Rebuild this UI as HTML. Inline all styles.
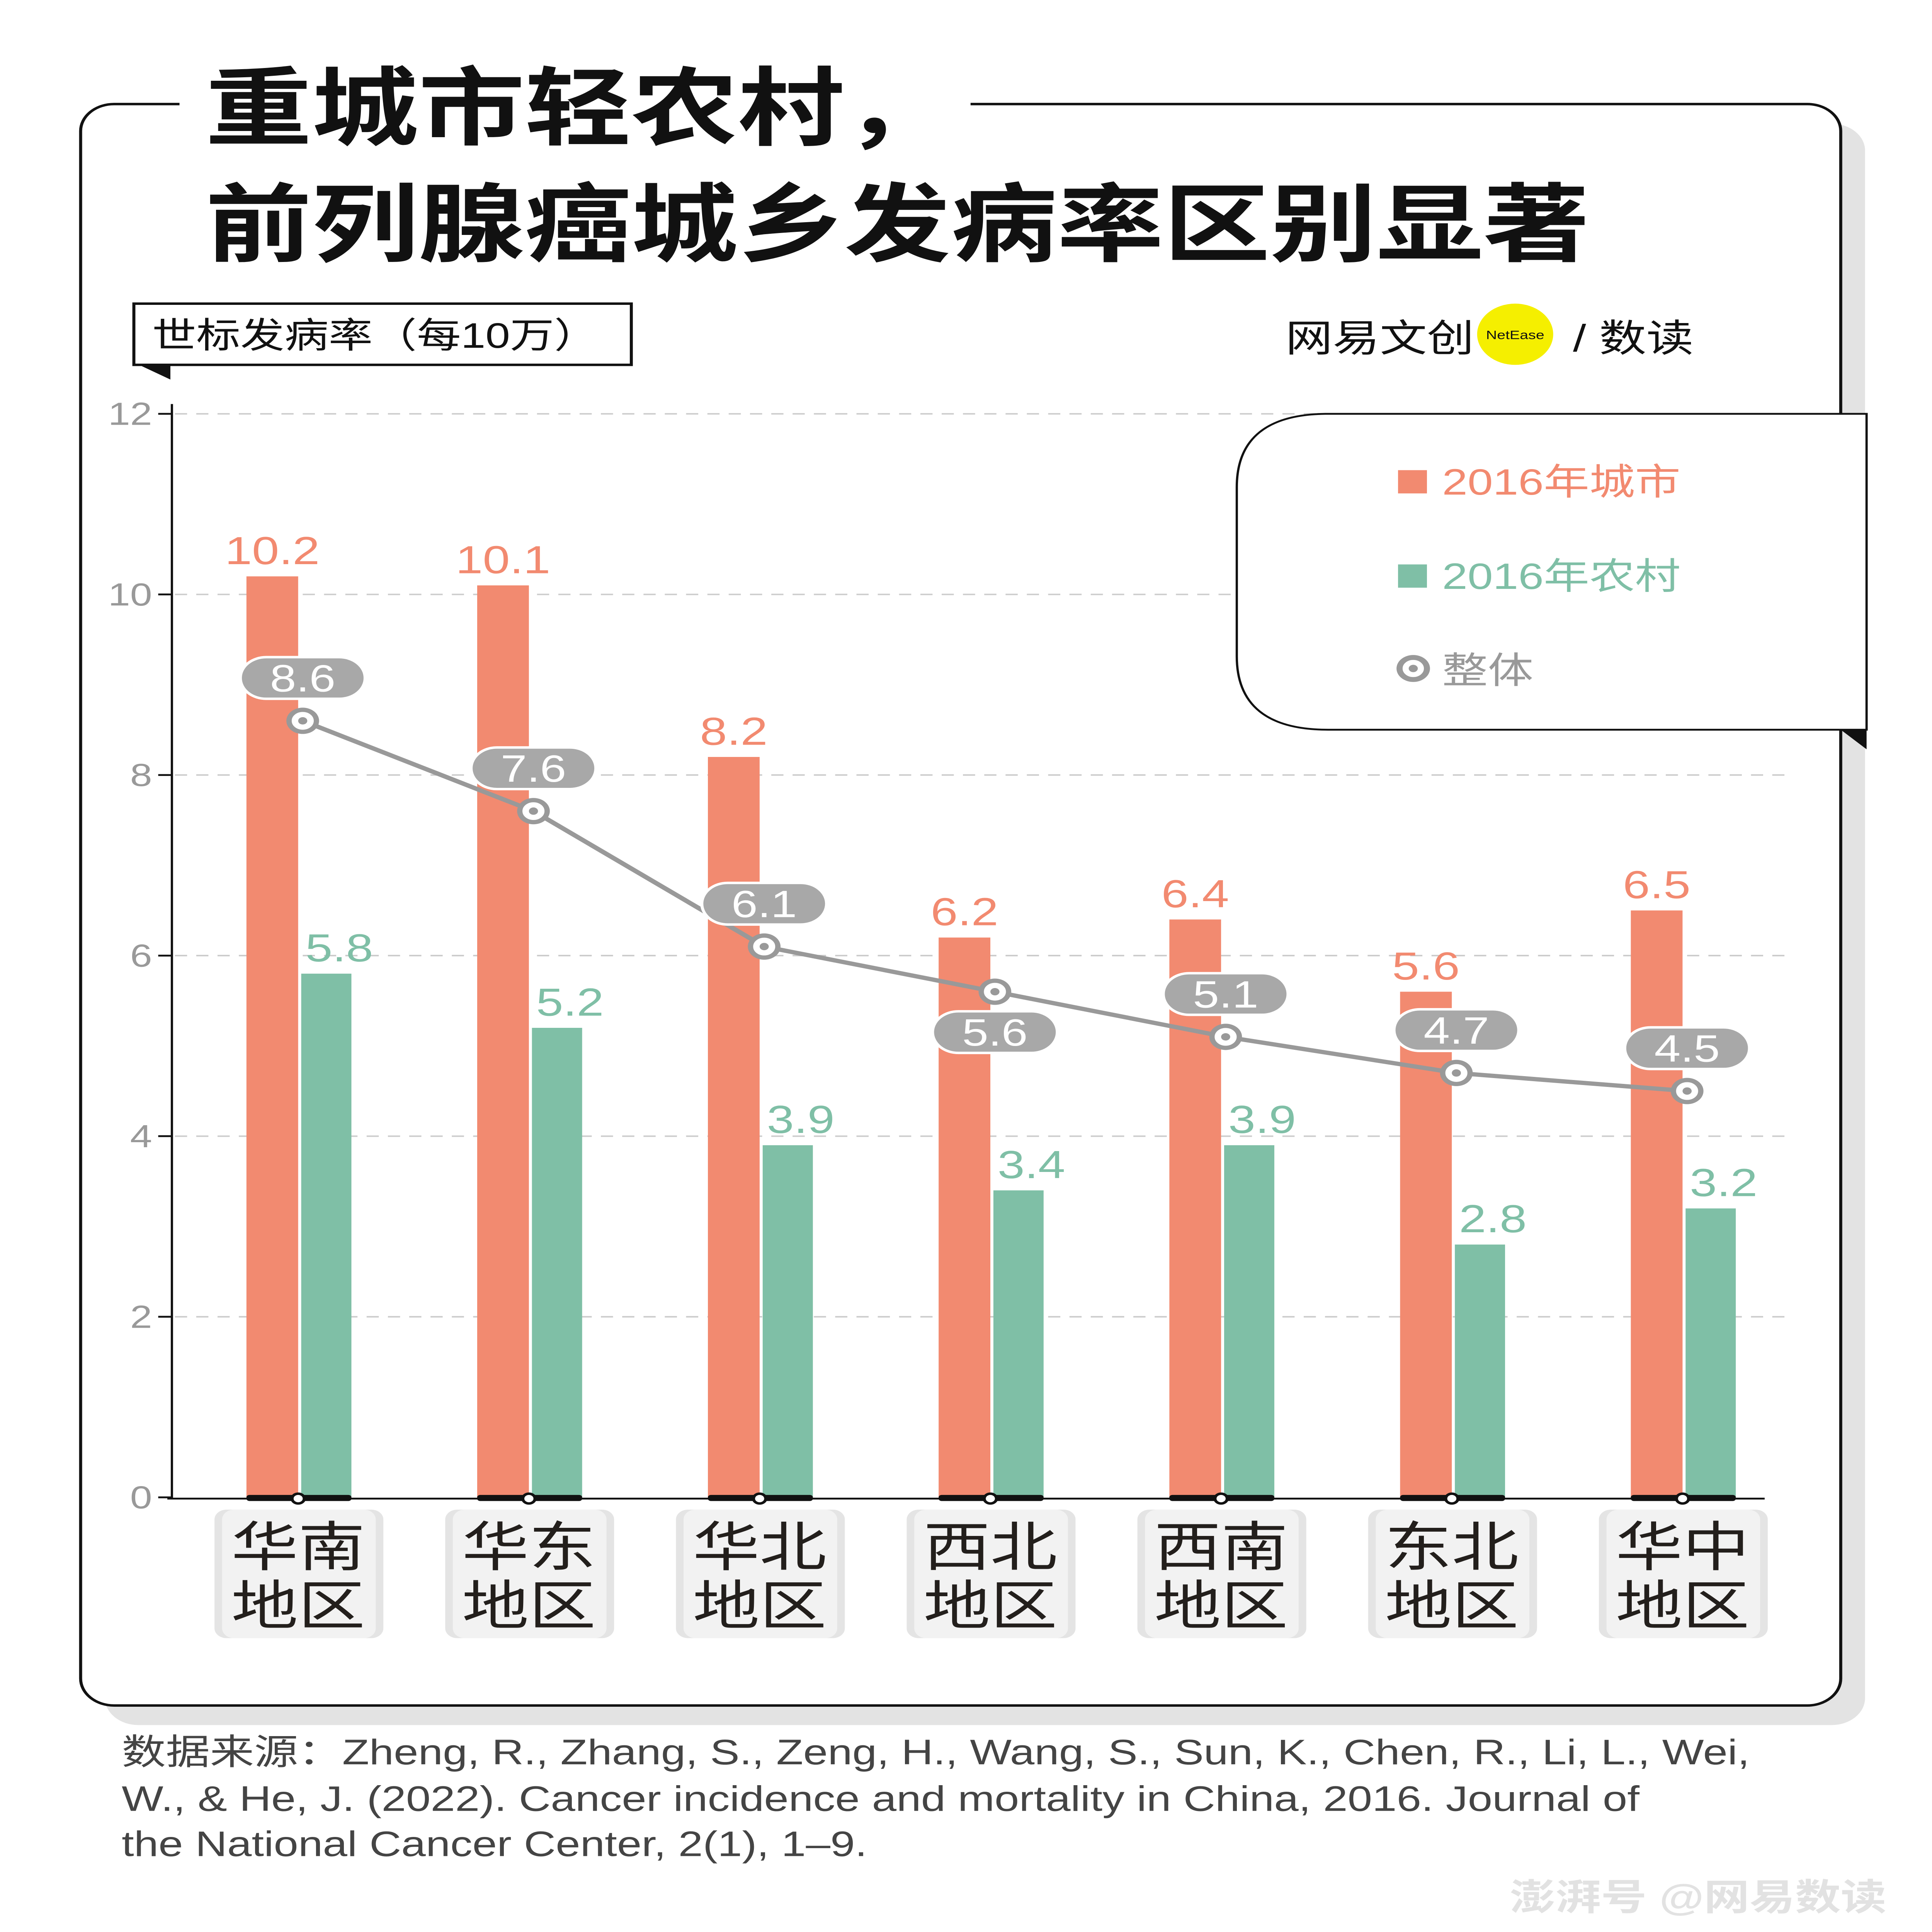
<!DOCTYPE html>
<html><head><meta charset="utf-8">
<style>
html,body{margin:0;padding:0;background:#fff;width:100%;height:100%;overflow:hidden;}
svg{display:block;width:100vw;height:100vh;font-family:"Liberation Sans","Noto Sans CJK SC",sans-serif;}
</style></head>
<body>
<svg id="chart" viewBox="0 0 1270 1578" preserveAspectRatio="none" xmlns="http://www.w3.org/2000/svg">
  <rect width="1270" height="1578" fill="#fff"/>
  <rect x="69" y="101" width="1157" height="1308" rx="22" fill="#e3e3e3"/>
  <rect x="53" y="85" width="1157" height="1308" rx="22" fill="#fff" stroke="#111" stroke-width="2"/>
  <rect x="118" y="60" width="520" height="60" fill="#fff"/>
  <text x="135" y="113" font-size="70" font-weight="bold" fill="#111">重城市轻农村，</text>
  <text x="135" y="208" font-size="70" font-weight="bold" fill="#111">前列腺癌城乡发病率区别显著</text>
  <polygon points="88,296 112,296 112,310" fill="#111"/>
  <rect x="88" y="248" width="327" height="50" fill="#fff" stroke="#111" stroke-width="2"/>
  <text x="100" y="284" font-size="29" fill="#111">世标发病率（每10万）</text>
  <text x="845" y="287" font-size="31" fill="#111">网易文创</text>
  <circle cx="996" cy="273" r="25" fill="#f5ef00"/>
  <text x="996" y="277" font-size="10" text-anchor="middle" fill="#111">NetEase</text>
  <text x="1034" y="287" font-size="31" fill="#111">/ 数读</text>
  <g id="plot"></g>
  <path d="M1210,596 L1227,596 L1227,612 Z" fill="#111"/>
  <path d="M873,338 L1227,338 L1227,596 L873,596 Q813,596 813,536 L813,398 Q813,338 873,338 Z" fill="#fff" stroke="#111" stroke-width="1.5"/>
  <rect x="919" y="384" width="19" height="19" fill="#F28A70"/>
  <text x="948" y="404" font-size="30" fill="#F28A70">2016年城市</text>
  <rect x="919" y="461" width="19" height="19" fill="#7FBFA6"/>
  <text x="948" y="481" font-size="30" fill="#7FBFA6">2016年农村</text>
  <circle cx="929" cy="546" r="9" fill="#fff" stroke="#999" stroke-width="4"/>
  <circle cx="929" cy="546" r="3" fill="#999"/>
  <text x="948" y="558" font-size="30" fill="#999">整体</text>
  <text x="80" y="1441" font-size="29" fill="#444">数据来源：Zheng, R., Zhang, S., Zeng, H., Wang, S., Sun, K., Chen, R., Li, L., Wei,</text>
  <text x="80" y="1479" font-size="29" fill="#444">W., &amp; He, J. (2022). Cancer incidence and mortality in China, 2016. Journal of</text>
  <text x="80" y="1516" font-size="29" fill="#444">the National Cancer Center, 2(1), 1–9.</text>
  <text x="1240" y="1560" font-size="30" font-weight="bold" fill="#e2e2e2" text-anchor="end">澎湃号 @网易数读</text>
</svg>
<script>
const categories = ["华南地区","华东地区","华北地区","西北地区","西南地区","东北地区","华中地区"];
const urbanValues = [10.2,10.1,8.2,6.2,6.4,5.6,6.5];
const ruralValues = [5.8,5.2,3.9,3.4,3.9,2.8,3.2];
const overallValues = [8.6,7.6,6.1,5.6,5.1,4.7,4.5];
const overallLabelBelow = [false,false,false,true,false,false,false];
const yTicks = [0,2,4,6,8,10,12];

const NS = "http://www.w3.org/2000/svg";
const g = document.getElementById('plot');
function y(v){ return 1223 - v * (1223 - 338) / 12; }
function xc(i){ return 196 + i * 151.67; }
function mk(tag, attrs, parent){
  const e = document.createElementNS(NS, tag);
  for (const k in attrs) e.setAttribute(k, attrs[k]);
  (parent || g).appendChild(e);
  return e;
}
yTicks.forEach(t => {
  if (t > 0) {
    const l = mk('line', {x1:115, x2:1175, y1:y(t), y2:y(t), stroke:'#ccc', 'stroke-width':1.2, 'stroke-dasharray':'8,6'});
    
    
  }
  const tk = mk('line', {x1:104, x2:113, y1:y(t), y2:y(t), stroke:'#111', 'stroke-width':1.5});
  
  
  const tx = mk('text', {x:100, y:y(t)+9, 'font-size':26, fill:'#999', 'text-anchor':'end'});
  tx.textContent = t;
  
  
});
const ax = mk('line', {x1:113, x2:113, y1:330, y2:1224, stroke:'#111', 'stroke-width':1.5});


const bx = mk('line', {x1:110, x2:1160, y1:1224, y2:1224, stroke:'#111', 'stroke-width':1.5});



categories.forEach((c, i) => {
  const cx = xc(i);
  const ub = mk('rect', {x:cx-34, y:y(urbanValues[i]), width:34, height:1223-y(urbanValues[i]), fill:'#F28A70'});
  
  
  const rb = mk('rect', {x:cx+2, y:y(ruralValues[i]), width:33, height:1223-y(ruralValues[i]), fill:'#7FBFA6'});
  
  
  const ul = mk('text', {x:cx-17, y:y(urbanValues[i])-10, 'font-size':32, fill:'#F28A70', 'text-anchor':'middle'});
  ul.textContent = urbanValues[i].toFixed(1);
  
  
  const rl = mk('text', {x:cx+27, y:y(ruralValues[i])-10, 'font-size':32, fill:'#7FBFA6', 'text-anchor':'middle'});
  rl.textContent = ruralValues[i].toFixed(1);
  
  
  const bb = mk('rect', {x:cx-34, y:1221, width:69, height:5, rx:2, fill:'#111'});
  
  
  const bc = mk('circle', {cx:cx, cy:1224, r:4, fill:'#fff', stroke:'#111', 'stroke-width':2});
  
  
  const cb = mk('rect', {x:cx-55, y:1233, width:111, height:105, rx:8, fill:'#e4e4e4'});
  
  
  mk('rect', {x:cx-50, y:1233, width:101, height:105, rx:8, fill:'#f2f2f2'});
  const t1 = mk('text', {x:cx, y:1279, 'font-size':44, fill:'#231f1c', 'text-anchor':'middle'});
  t1.textContent = c.slice(0,2);
  
  
  const t2 = mk('text', {x:cx, y:1327, 'font-size':44, fill:'#231f1c', 'text-anchor':'middle'});
  t2.textContent = c.slice(2);
  
  
});
const pts = overallValues.map((v, i) => (xc(i)+3) + ',' + y(v)).join(' ');
const ln = mk('polyline', {points:pts, fill:'none', stroke:'#999', 'stroke-width':3.5});


overallValues.forEach((v, i) => {
  const px = xc(i)+3, py = y(v);
  const ly = overallLabelBelow[i] ? py + 33 : py - 35;
  const pill = mk('rect', {x:px-41, y:ly-17, width:82, height:34, rx:17, fill:'#a8a8a8', stroke:'#fff', 'stroke-width':2});
  
  
  const lt = mk('text', {x:px, y:ly+11, 'font-size':31, fill:'#fff', 'text-anchor':'middle'});
  lt.textContent = v.toFixed(1);
  
  
  const pt = mk('circle', {cx:px, cy:py, r:9, fill:'#fff', stroke:'#999', 'stroke-width':3.5});
  
  
  mk('circle', {cx:px, cy:py, r:3, fill:'#999'});
});
</script>
</body></html>
